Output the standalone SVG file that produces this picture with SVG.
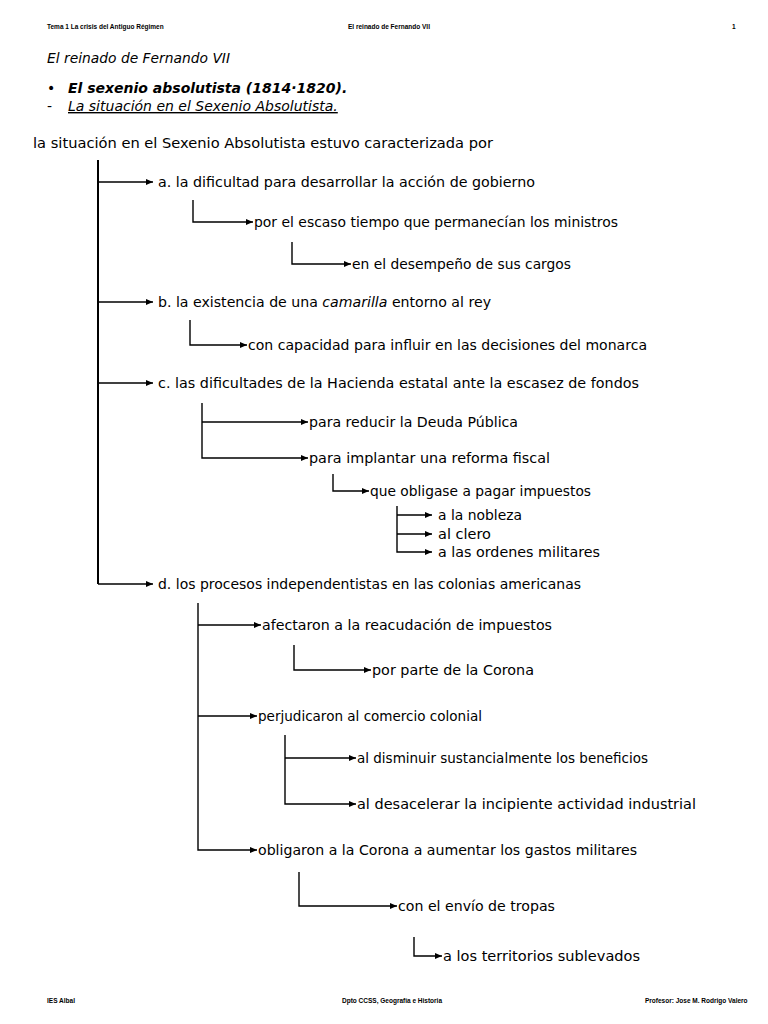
<svg xmlns="http://www.w3.org/2000/svg" width="768" height="1024" viewBox="0 0 768 1024">
<style>
.t{font-family:"DejaVu Sans",sans-serif;font-size:14px;fill:#000}
.h{font-family:"Liberation Sans",sans-serif;font-size:6.5px;font-weight:bold;fill:#000}
.c{stroke:#000;stroke-width:1.4;fill:none}
.m{stroke:#000;stroke-width:2;fill:none}
</style>
<defs>
<marker id="ah" markerWidth="8" markerHeight="6" refX="7" refY="3" orient="auto" markerUnits="userSpaceOnUse"><path d="M0,0 L7,3 L0,6 Z" fill="#000"/></marker>
</defs>
<rect width="768" height="1024" fill="#fff"/>
<g id="header">
<text class="h" x="47" y="29">Tema 1 La crisis del Antiguo Régimen</text>
<text class="h" x="348" y="29">El reinado de Fernando VII</text>
<text class="h" x="732" y="29">1</text>
</g>
<g id="title">
<text class="t" x="47" y="63" font-size="16" font-style="italic" textLength="183" lengthAdjust="spacingAndGlyphs">El reinado de Fernando VII</text>
<text class="t" x="47" y="93" font-size="16">•</text>
<text class="t" x="68" y="93" font-size="16" font-style="italic" font-weight="bold">El sexenio absolutista (1814·1820).</text>
<text class="t" x="47" y="111" font-size="16">-</text>
<text class="t" x="68" y="111" font-size="16" font-style="italic" text-decoration="underline">La situación en el Sexenio Absolutista.</text>
</g>
<g id="root"><text class="t" x="33" y="148" font-size="15" textLength="460" lengthAdjust="spacingAndGlyphs">la situación en el Sexenio Absolutista estuvo caracterizada por</text></g>
<g id="connectors">
<path class="m" d="M98,160 V584"/>
<path class="c" d="M98,182 H153" marker-end="url(#ah)"/>
<path class="c" d="M193,200 V222 H253" marker-end="url(#ah)"/>
<path class="c" d="M292,242 V264 H351" marker-end="url(#ah)"/>
<path class="c" d="M98,302 H153" marker-end="url(#ah)"/>
<path class="c" d="M190,320 V345 H247" marker-end="url(#ah)"/>
<path class="c" d="M98,383 H153" marker-end="url(#ah)"/>
<path class="c" d="M202,403 V458 H308" marker-end="url(#ah)"/>
<path class="c" d="M202,422 H308" marker-end="url(#ah)"/>
<path class="c" d="M333,474 V491 H369" marker-end="url(#ah)"/>
<path class="c" d="M397,506 V552 H432" marker-end="url(#ah)"/>
<path class="c" d="M397,515 H432" marker-end="url(#ah)"/>
<path class="c" d="M397,534 H432" marker-end="url(#ah)"/>
<path class="c" d="M98,584 H153" marker-end="url(#ah)"/>
<path class="c" d="M198,603 V850 H257" marker-end="url(#ah)"/>
<path class="c" d="M198,625 H261" marker-end="url(#ah)"/>
<path class="c" d="M198,716 H257" marker-end="url(#ah)"/>
<path class="c" d="M294,645 V670 H371" marker-end="url(#ah)"/>
<path class="c" d="M285,735 V804 H356" marker-end="url(#ah)"/>
<path class="c" d="M285,758 H356" marker-end="url(#ah)"/>
<path class="c" d="M299,872 V906 H397" marker-end="url(#ah)"/>
<path class="c" d="M414,937 V956 H442" marker-end="url(#ah)"/>
</g>
<g id="n-a"><text class="t" x="158" y="187" textLength="377" lengthAdjust="spacingAndGlyphs">a. la dificultad para desarrollar la acción de gobierno</text></g>
<g id="n-a1"><text class="t" x="254" y="227" textLength="364" lengthAdjust="spacingAndGlyphs">por el escaso tiempo que permanecían los ministros</text></g>
<g id="n-a2"><text class="t" x="352" y="269" textLength="219" lengthAdjust="spacingAndGlyphs">en el desempeño de sus cargos</text></g>
<g id="n-b"><text class="t" x="158" y="307" textLength="333" lengthAdjust="spacingAndGlyphs">b. la existencia de una <tspan font-style="italic">camarilla</tspan> entorno al rey</text></g>
<g id="n-b1"><text class="t" x="248" y="350" textLength="399" lengthAdjust="spacingAndGlyphs">con capacidad para influir en las decisiones del monarca</text></g>
<g id="n-c"><text class="t" x="158" y="388" textLength="481" lengthAdjust="spacingAndGlyphs">c. las dificultades de la Hacienda estatal ante la escasez de fondos</text></g>
<g id="n-c1"><text class="t" x="309" y="427" textLength="209" lengthAdjust="spacingAndGlyphs">para reducir la Deuda Pública</text></g>
<g id="n-c2"><text class="t" x="309" y="463" textLength="241" lengthAdjust="spacingAndGlyphs">para implantar una reforma fiscal</text></g>
<g id="n-c3"><text class="t" x="370" y="496" textLength="221" lengthAdjust="spacingAndGlyphs">que obligase a pagar impuestos</text></g>
<g id="n-c4"><text class="t" x="438" y="520" textLength="84" lengthAdjust="spacingAndGlyphs">a la nobleza</text></g>
<g id="n-c5"><text class="t" x="438" y="539" textLength="53" lengthAdjust="spacingAndGlyphs">al clero</text></g>
<g id="n-c6"><text class="t" x="438" y="557" textLength="162" lengthAdjust="spacingAndGlyphs">a las ordenes militares</text></g>
<g id="n-d"><text class="t" x="158" y="589" textLength="423" lengthAdjust="spacingAndGlyphs">d. los procesos independentistas en las colonias americanas</text></g>
<g id="n-d1"><text class="t" x="262" y="630" textLength="290" lengthAdjust="spacingAndGlyphs">afectaron a la reacudación de impuestos</text></g>
<g id="n-d2"><text class="t" x="372" y="675" textLength="162" lengthAdjust="spacingAndGlyphs">por parte de la Corona</text></g>
<g id="n-d3"><text class="t" x="258" y="721" textLength="224" lengthAdjust="spacingAndGlyphs">perjudicaron al comercio colonial</text></g>
<g id="n-d4"><text class="t" x="357" y="763" textLength="291" lengthAdjust="spacingAndGlyphs">al disminuir sustancialmente los beneficios</text></g>
<g id="n-d5"><text class="t" x="357" y="809" textLength="339" lengthAdjust="spacingAndGlyphs">al desacelerar la incipiente actividad industrial</text></g>
<g id="n-d6"><text class="t" x="258" y="855" textLength="379" lengthAdjust="spacingAndGlyphs">obligaron a la Corona a aumentar los gastos militares</text></g>
<g id="n-d7"><text class="t" x="398" y="911" textLength="157" lengthAdjust="spacingAndGlyphs">con el envío de tropas</text></g>
<g id="n-d8"><text class="t" x="443" y="961" textLength="197" lengthAdjust="spacingAndGlyphs">a los territorios sublevados</text></g>
<g id="footer">
<text class="h" x="47" y="1003">IES Albal</text>
<text class="h" x="342" y="1003">Dpto CCSS, Geografía e Historia</text>
<text class="h" x="645" y="1003">Profesor: Jose M. Rodrigo Valero</text>
</g>
</svg>
